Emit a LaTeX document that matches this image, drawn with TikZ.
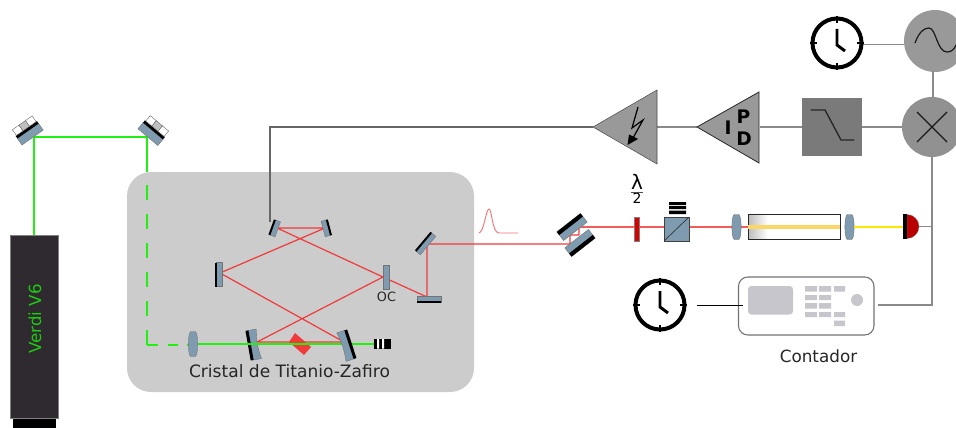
\documentclass[tikz,border=0pt]{standalone}
\usepackage{fontspec}
\setmainfont{DejaVu Sans}
\usetikzlibrary{arrows.meta}
\definecolor{optblue}{HTML}{7F9BB0}
\definecolor{laser}{HTML}{F23A3A}
\definecolor{pump}{HTML}{22F010}
\definecolor{wire}{HTML}{8A8A8A}
\definecolor{btn}{HTML}{C6C6CC}
\definecolor{verdibody}{HTML}{2E2A30}
\tikzset{
  x=0.75pt,y=-0.75pt,
  optic/.style={fill=optblue,draw=black!55,line width=0.3pt},
  backing/.style={fill=black},
  beam/.style={draw=laser,line width=0.9pt,line join=round},
  greenbeam/.style={draw=pump,line width=1.7pt},
  cavitygreen/.style={draw=pump,line width=1.5pt},
  wireline/.style={draw=wire,line width=1.3pt},
  lbl/.style={inner sep=0pt,text=black!85},
  mount/.pic={
    \fill[optic] (-13,0) rectangle (13,8);
    \fill[backing] (-13,-3) rectangle (13,0);
    \fill[white,draw=black!60,line width=0.3pt] (-12,-10) rectangle (-4,-3);
    \fill[black!25,draw=black!60,line width=0.3pt] (-4,-10) rectangle (4,-3);
    \fill[white,draw=black!60,line width=0.3pt] (4,-10) rectangle (12,-3);
  },
  flat/.pic={
    \fill[optic] (-2,-#1) rectangle (4,#1);
    \fill[backing] (-3,-#1) rectangle (-1,#1);
  },
  flat/.default=8,
  curved/.pic={
    \fill[optic] (-2,-15) -- (7,-15) .. controls (5,-5) and (5,5) .. (7,15) -- (-2,15) -- cycle;
    \fill[backing] (-4,-15) rectangle (-1,15);
  },
  lens/.pic={
    \fill[optic] (-2,-12.5) -- (2,-12.5) .. controls (5.5,-12.5) and (5.5,12.5) .. (2,12.5)
       -- (-2,12.5) .. controls (-5.5,12.5) and (-5.5,-12.5) .. (-2,-12.5) -- cycle;
  },
  clock/.pic={
    \draw[line width=3pt,black] (0,0) circle (24.5);
    \draw[line width=2.2pt,black] (0,-27)--(0,-20) (0,27)--(0,20) (-27,0)--(-20,0) (27,0)--(20,0);
    \draw[line width=2.2pt,black] (0,-14)--(0,2)--(8,8);
  }
}
\begin{document}
\begin{tikzpicture}
\useasboundingbox (0,0) rectangle (956,428);
\path[fill=white] (0,0) rectangle (956,428);

% Gray enclosure
\fill[black!20,rounded corners=18pt] (127,172) rectangle (474,392);

% Verdi laser
\fill[black] (13,415) rectangle (56,428);
\node[fill=verdibody,draw=black!50,line width=0.3pt,minimum width=36pt,minimum height=137pt,inner sep=0pt,anchor=north west] (verdi) at (10,235) {};
\node[rotate=90,text=pump!85!black,font=\fontsize{12.5}{15}\selectfont,inner sep=0pt] (verdilbl) at (35,319) {Verdi V6};

% Pump path
\coordinate (g1) at (34,235);
\coordinate (g2) at (34,137);
\coordinate (g3) at (147,137);
\coordinate (g4) at (147,172);
\coordinate (g5) at (147,185);
\coordinate (g6) at (147,345);
\coordinate (g7) at (158,345);
\coordinate (g8) at (168,345);
\coordinate (g9) at (178,345);
\coordinate (g10) at (187,345);
\coordinate (g11) at (190,345);
\coordinate (g12) at (198,343.5);
\coordinate (g13) at (375,343.5);
\draw[greenbeam] (g1)--(g2)--(g3)--(g4);
\draw[greenbeam,dash pattern=on 11.25pt off 10.5pt] (g5)--(g6);
\draw[greenbeam] (g6)--(g7) (g8)--(g9) (g10)--(g11);

% Top mirrors
\pic[rotate=35] at (28,131) {mount};
\pic[rotate=-40] at (153,131) {mount};

% Cavity
\coordinate (a) at (277,228);
\coordinate (b) at (325,228);
\coordinate (c) at (220,273);
\coordinate (d) at (344,342);
\coordinate (e) at (257,342);
\coordinate (f) at (383,277);
\coordinate (h) at (427,297);
\coordinate (i) at (427,244);
\coordinate (j) at (570,244);
\coordinate (k) at (570,235);
\coordinate (l) at (579,235);
\coordinate (m) at (579,227);
\coordinate (n) at (748,227);
\draw[beam] (a)--(b)--(c)--(d)--(e)--(f)--(a);
\draw[laser!50,line width=1.7pt] (m)--(n);
\draw[beam] (f)--(h)--(i)--(j)--(k)--(l)--(m)--(n);

% Crystal
\fill[laser] (295,333)--(311,347)--(304,355)--(289,342)--cycle;

% Cavity optics
\pic[rotate=-20] at (274,228) {flat=8};
\pic[rotate=195] at (327,228) {flat=8};
\pic at (218,274.5) {flat=12};
\fill[optic] (383,265) rectangle (389,289);
\pic[rotate=-40] at (425,243) {flat=12};
\pic[rotate=90] at (429,300) {flat=12};
\pic[rotate=10] at (252,345) {curved};
\pic at (193,344) {lens};
\draw[cavitygreen] (g12)--(g13);
\pic[rotate=-162] at (348,345) {curved};
% Beam dump
\fill[black] (374,339) rectangle (391,348.5);
\fill[white] (377,339) rectangle (379,348.5) (382,339) rectangle (384,348.5);

\node[lbl,font=\fontsize{12.8}{14}\selectfont] (crystallbl) at (289.5,371.5) {Cristal de Titanio-Zafiro};
\node[lbl,font=\fontsize{9.6}{10}\selectfont] (oclbl) at (386.5,297) {OC};

% Pulse
\draw[laser!70,line width=0.7pt] (479,233) .. controls (484,232) and (486,209) .. (489,209) .. controls (492,209) and (492,233) .. (499,233) -- (518,233);

% Mirror pair
\begin{scope}[shift={(572,227)},rotate=38]
  \fill[optic] (-15,-5.5) rectangle (15,5.5);
  \fill[backing] (-15,-5.5) rectangle (15,-1.5);
\end{scope}
\begin{scope}[shift={(580,243)},rotate=38]
  \fill[optic] (-15,-5.5) rectangle (15,5.5);
  \fill[backing] (-15,1.5) rectangle (15,5.5);
\end{scope}

% Waveplate
\fill[red!85!black,draw=black!50,line width=0.3pt] (634.5,217) rectangle (639.5,241);
\node[lbl,text=black,font=\fontsize{15}{16}\selectfont] (lambdaN) at (637,182) {λ};
\node[lbl,text=black,font=\fontsize{10.5}{12}\selectfont] (lambdaD) at (637,198.5) {2};
\draw[black!70,line width=0.5pt] (631,192.3)--(643,192.3);

% Polarizer
\fill[optic,draw=black!75,line width=0.6pt] (664,217) rectangle (689,241);
\draw[black!80,line width=0.5pt] (664,241)--(689,217);
\fill[black] (669,202) rectangle (686,205) (669,206) rectangle (686,209) (669,210.5) rectangle (686,214);

% Lenses and crystal
\pic at (736.5,227) {lens};
\pic at (849.5,227) {lens};
\fill[white] (748,214) rectangle (840,239);
\shade[left color=black!25,right color=white] (749,215) rectangle (768,238);
\draw[black!85,line width=0.7pt] (748,214) rectangle (840,239);
\draw[line width=2.6pt,draw={rgb,255:red,250;green,215;blue,100}] (748,227)--(840,227);
\draw[yellow!95!red,line width=1.5pt] (854,227)--(903,227);

% Detector
\fill[red!72!black,draw=black!50,line width=0.2pt] (907,214.5) arc[start angle=-90,end angle=90,radius=12] -- cycle;
\fill[black] (903,214) rectangle (907,239);

% Electronics
\node[circle,fill=black!40,minimum size=46.5pt,inner sep=0pt] (osc) at (935,41) {};
\node[circle,fill=black!43,minimum size=45pt,inner sep=0pt] (mix) at (932,127) {};
\node[fill=black!52,minimum width=45pt,minimum height=43.5pt,inner sep=0pt] (lpf) at (832,127) {};
\coordinate (ampTip) at (593,127);
\coordinate (pidTip) at (697,127);
\coordinate (ampR) at (657,127);
\coordinate (pidR) at (759.5,127);
\coordinate (clkA) at (863,44.5);
\coordinate (det) at (919,226.5);
\coordinate (jn) at (932,226.5);
\coordinate (cnR) at (878,305);
\coordinate (cn2) at (932,305);
\coordinate (cnL) at (743,305);
\coordinate (clkB) at (697,305);
\coordinate (cavA) at (270,127);
\coordinate (cavB) at (270,222);

\draw[wireline] (clkA)--(clkA -| osc.west);
\draw[wireline] (933,71)--(933,97);
\draw[wireline] (mix.west)--(lpf.east);
\draw[wireline] (lpf.west)--(pidR);
\draw[wireline] (pidTip)--(ampR);
\draw[draw=black!60,line width=0.8pt] (ampTip)--(cavA)--(cavB);
\draw[wireline,line width=1.5pt] (mix.south)--(cn2)--(cnR);
\draw[wireline] (det)--(jn);

\fill[black!40,draw=black!70,line width=0.4pt] (593,127)--(657,90)--(657,164)--cycle;
\fill[black!40,draw=black!85,line width=0.6pt] (697,127)--(759,92)--(759,163)--cycle;
\draw[black,line width=0.9pt] (638,107)--(632,128)--(643,120)--(633,138);
\fill[black] (627.5,145)--(629,134.5)--(638,139)--cycle;
\node[font=\bfseries\fontsize{14}{16}\selectfont,inner sep=0pt] (lI) at (728,128) {I};
\node[font=\bfseries\fontsize{14}{16}\selectfont,inner sep=0pt] (lP) at (743.5,116.5) {P};
\node[font=\bfseries\fontsize{14}{16}\selectfont,inner sep=0pt] (lD) at (744,139) {D};

\draw[black!85,line width=1pt,line cap=round] (811,110)--(825,110)--(841,140)--(854,140);
\draw[black!90,line width=0.9pt] (917,112)--(947,142) (947,112)--(917,142);
\draw[black!90,line width=0.9pt] (915,43) .. controls (919,32) and (924,28) .. (929,28) .. controls (936,28) and (937,52) .. (947,52) .. controls (951,52) and (954,50) .. (956,45);

\pic at (837,43) {clock};
\pic at (660,305) {clock};

% Counter
\draw[fill=white,draw=black!55,line width=0.8pt,rounded corners=7pt] (738.5,277) rectangle (874,335);
\fill[btn,rounded corners=2.5pt] (748,286) rectangle (793,314.5);
\fill[btn] (805,286) rectangle (817,291.5) (819,286) rectangle (831,291.5) (834,286) rectangle (845,291.5)
  (805,295) rectangle (817,300) (819,295) rectangle (831,300)
  (805,303) rectangle (817,308.5) (819,303) rectangle (831,308.5)
  (805,312) rectangle (817,317) (819,312) rectangle (831,317) (834,312) rectangle (845,317)
  (834,320.5) rectangle (845,326);
\fill[btn] (857,300) circle (6);
\draw[line width=0.6pt,black] (clkB)--(cnL);
\node[lbl,font=\fontsize{12.6}{14}\selectfont] (contador) at (818.5,356) {Contador};
\end{tikzpicture}
\end{document}
